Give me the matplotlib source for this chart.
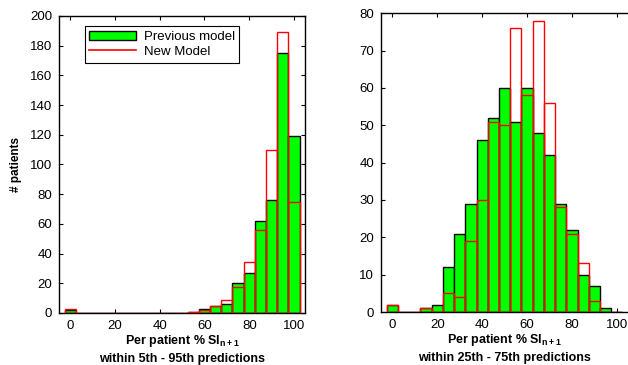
import matplotlib.pyplot as plt
import numpy as np
from matplotlib.patches import Patch
from matplotlib.lines import Line2D

plt.rcParams['font.family'] = ['Liberation Sans', 'DejaVu Sans']
plt.rcParams['mathtext.fontset'] = 'custom'
plt.rcParams['mathtext.bf'] = 'Liberation Sans:bold'
plt.rcParams['mathtext.rm'] = 'Liberation Sans'

# bin centres (% of per patient SI_{n+1} within prediction range)
bin_centres = [0, 5, 10, 15, 20, 25, 30, 35, 40, 45, 50,
               55, 60, 65, 70, 75, 80, 85, 90, 95, 100]

# 5th - 95th predictions
prev_90 = [2, 0, 0, 0, 0, 0, 0, 0, 0, 0, 0,
           1, 3, 4.5, 6, 20, 27, 62, 76, 175, 119]
new_90 = [2.5, 0, 0, 0, 0, 0, 0, 0, 0, 0, 0,
          0.5, 2, 5, 8.5, 17.5, 34.5, 56, 110, 189, 75]

# 25th - 75th predictions
prev_50 = [2, 0, 0, 1, 2, 12, 21, 29, 46, 52, 60,
           51, 60, 48, 42, 29, 22, 10, 7, 1, 0]
new_50 = [2, 0, 0, 1, 0, 5, 4, 19, 30, 51, 50,
          76, 58, 78, 56, 28, 21, 13, 3, 0, 0]

fig = plt.figure(figsize=(6.28, 3.65), dpi=100)
ax1 = fig.add_axes([0.094, 0.1425, 0.392, 0.814])
ax2 = fig.add_axes([0.607, 0.145, 0.393, 0.819])


def draw_hist(ax, prev, new, ymax, ystep, subtitle):
    ax.bar(bin_centres, prev, width=5, color='#00ff00', edgecolor='black',
           linewidth=1.0, zorder=2)
    ax.bar(bin_centres, new, width=5, fill=False, edgecolor='red',
           linewidth=1.0, zorder=3)
    ax.set_xlim(-5, 105)
    ax.set_ylim(0, ymax)
    ax.set_xticks(np.arange(0, 101, 20))
    ax.set_yticks(np.arange(0, ymax + 1, ystep))
    ax.tick_params(direction='in', top=True, right=True, labelsize=9.5,
                   length=3, width=0.8, pad=5)
    for s in ax.spines.values():
        s.set_linewidth(1.0)
    ax.set_xlabel('Per patient % SI$_{\\bf n+1}$\n' + subtitle,
                  fontsize=9, fontweight='bold', labelpad=1, linespacing=1.4)


draw_hist(ax1, prev_90, new_90, 200, 20, 'within 5th - 95th predictions')
draw_hist(ax2, prev_50, new_50, 80, 10, 'within 25th - 75th predictions')

# right panel is clipped at the figure edge in the original
ax2.spines['right'].set_visible(False)
ax2.tick_params(right=False)

ax1.set_ylabel('# patients', fontsize=8.5, fontweight='bold', labelpad=6)

handles = [Patch(facecolor='#00ff00', edgecolor='black', linewidth=1.0),
           Line2D([0], [0], color='red', linewidth=1.2)]
leg = ax1.legend(handles, ['Previous model', 'New Model'], loc='upper left',
                 bbox_to_anchor=(0.105, 0.965), fontsize=9.5, fancybox=False,
                 framealpha=1, edgecolor='black', handlelength=3.5,
                 borderpad=0.35, labelspacing=0.2, handletextpad=0.6,
                 borderaxespad=0)
leg.get_frame().set_linewidth(0.8)

fig.savefig('out.png', dpi=100)
